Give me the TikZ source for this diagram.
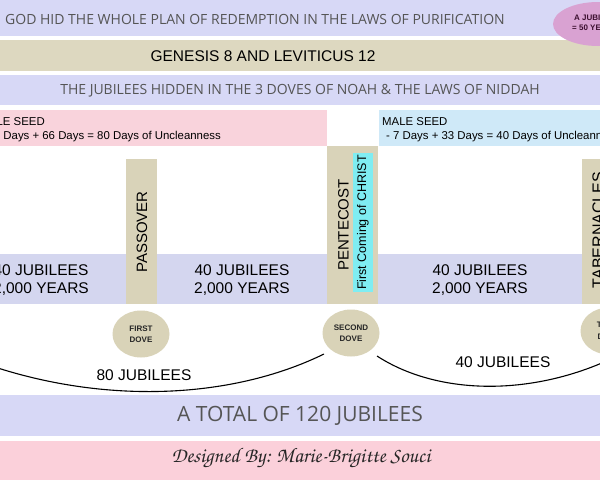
\documentclass[tikz,border=0pt]{standalone}
\usepackage{fontspec}
\setmainfont{Liberation Sans}
\newfontfamily\opensans{Open Sans}
\usetikzlibrary{shapes.geometric,calc}
\newcommand\chancery{\fontencoding{OT1}\fontfamily{pzc}\fontseries{mb}\fontshape{it}\selectfont}
\definecolor{lav}{HTML}{D7D8F6}
\definecolor{lavb}{HTML}{D4D6EF}
\definecolor{tanb}{HTML}{DDD8C0}
\definecolor{coltan}{HTML}{D9D3B9}
\definecolor{dovec}{HTML}{D9D3B8}
\definecolor{pinkb}{HTML}{F9D3DC}
\definecolor{pinkbot}{HTML}{FBD0DA}
\definecolor{blueb}{HTML}{CFE9F8}
\definecolor{cyanb}{HTML}{7FEDF2}
\definecolor{ellip}{HTML}{D9A2D2}
\definecolor{grayt}{HTML}{555555}
\definecolor{purp}{HTML}{3C1030}
\begin{document}
\begin{tikzpicture}[x=1pt,y=-1pt,
  graytext/.style={font=\opensans\fontsize{14}{16}\selectfont, text=grayt, inner sep=0},
  bigtext/.style={font=\fontsize{15.5}{18}\selectfont, inner sep=0, align=center},
  seedtext/.style={font=\fontsize{11.4}{13}\selectfont, inner sep=0},
  coltext/.style={font=\fontsize{15}{18}\selectfont, rotate=90, inner sep=0},
  dovestyle/.style={ellipse, fill=dovec, minimum width=57pt, minimum height=47pt, inner sep=0, align=center, font=\bfseries\fontsize{8}{11.5}\selectfont, text=black!85},
  arcline/.style={draw=black, line width=1.1pt}]
\useasboundingbox (0,0) rectangle (600,480);
\clip (0,0) rectangle (600,480);
\fill[white] (0,0) rectangle (600,480);
% top bands
\fill[lav] (0,0) rectangle (600,36);
\fill[tanb] (0,40) rectangle (600,71);
\fill[lav] (0,75) rectangle (600,105);
\fill[ellip] (598,24) ellipse [x radius=45pt, y radius=22pt];
\node[graytext, anchor=west] (title) at (5,19) {GOD HID THE WHOLE PLAN OF REDEMPTION IN THE LAWS OF PURIFICATION};
\node[font=\bfseries\fontsize{8}{9.5}\selectfont, text=purp, align=center, inner sep=0] (jub) at (595,23) {A JUBILEE\\= 50 YEARS};
\node[font=\fontsize{15.5}{18}\selectfont, inner sep=0] (gen) at (263,56) {GENESIS 8 AND LEVITICUS 12};
\node[graytext] (hidden) at (300,91) {THE JUBILEES HIDDEN IN THE 3 DOVES OF NOAH \& THE LAWS OF NIDDAH};
% seed bands
\fill[pinkb] (0,110) rectangle (327,146);
\fill[blueb] (379,110) rectangle (600,146);
\node[seedtext, anchor=base east] (fem1) at (45,125) {FEMALE SEED};
\node[seedtext, anchor=base east] (fem2) at (221,139) {- 14 Days + 66 Days = 80 Days of Uncleanness};
\node[seedtext, anchor=base west] (male1) at (382,125) {MALE SEED};
\node[seedtext, anchor=base west] (male2) at (386,139) {- 7 Days + 33 Days = 40 Days of Uncleanness};
% jubilee band
\fill[lavb] (0,254) rectangle (600,304);
% columns
\fill[coltan] (126,159) rectangle (157,304);
\fill[coltan] (327,146) rectangle (378,304);
\fill[coltan] (582,159) rectangle (630,304);
\node[coltext] (passover) at (142,232) {PASSOVER};
\node[coltext] (pentecost) at (343.5,225) {PENTECOST};
\node[rotate=90, fill=cyanb, minimum width=139pt, minimum height=20pt, inner sep=0, font=\fontsize{12.5}{15}\selectfont] (christ) at (363,222.5) {First Coming of CHRIST};
\node[coltext, font=\fontsize{16}{19}\selectfont] (tab) at (598,230) {TABERNACLES};
\node[bigtext] (j1) at (41,280) {40 JUBILEES\\2,000 YEARS};
\node[bigtext] (j2) at (242,280) {40 JUBILEES\\2,000 YEARS};
\node[bigtext] (j3) at (480,280) {40 JUBILEES\\2,000 YEARS};
% doves
\node[dovestyle] (dove1) at (141,334) {FIRST\\DOVE};
\node[dovestyle] (dove2) at (351,333) {SECOND\\DOVE};
\node[dovestyle] (dove3) at (609,331) {THIRD\\DOVE};
\coordinate (arcL) at (-20,362);
\draw[arcline] (arcL) .. controls (100,405) and (230,400) .. ($(dove2)+(-27,21)$);
\draw[arcline] ($(dove2)+(26,23)$) .. controls (440,397) and (540,397) .. ($(dove3)+(16,21)$);
\node[bigtext] (j80) at (144,375) {80 JUBILEES};
\node[bigtext] (j40) at (503,362) {40 JUBILEES};
% bottom bands
\fill[lav] (0,395) rectangle (600,436);
\node[font=\opensans\fontsize{21}{24}\selectfont, text=grayt, inner sep=0] (total) at (300,416) {A TOTAL OF 120 JUBILEES};
\fill[pinkbot] (0,441) rectangle (600,480);
\node[font=\chancery\fontsize{21}{24}\selectfont, text=black!85, inner sep=0] (design) at (301,458) {Designed By: Marie-Brigitte Souci};
\end{tikzpicture}
\end{document}
